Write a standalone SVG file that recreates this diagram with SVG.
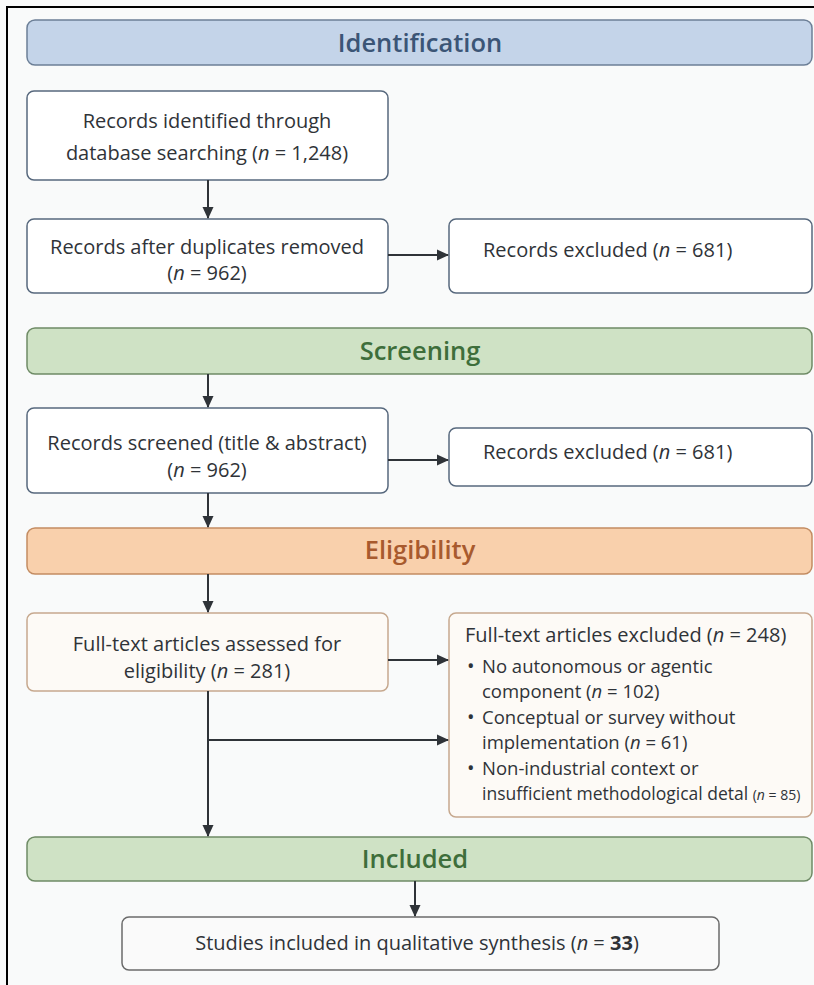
<svg xmlns="http://www.w3.org/2000/svg" width="814" height="985" viewBox="0 0 814 985">
<defs>
<marker id="ah" viewBox="0 0 12 12" refX="11" refY="6" markerWidth="12" markerHeight="12" markerUnits="userSpaceOnUse" orient="auto">
<path d="M0,0.5 L12,6 L0,11.5 z" fill="#2f3338"/>
</marker>
<style>
text{font-family:"Open Sans","Noto Sans","Liberation Sans",sans-serif;fill:#2f3338;font-size:20px}
.bar{stroke-width:1.5}
.hb{font-size:25.5px;font-weight:600;text-anchor:middle}
.box{fill:#ffffff;stroke:#57687d;stroke-width:1.5}
.ebox{fill:#fdfaf6;stroke:#c6a88e;stroke-width:1.5}
.c{text-anchor:middle}
.conn path{fill:none;stroke:#2f3338;stroke-width:2}
.ex{font-size:18.5px}
.bul{font-size:20px}
</style>
</defs>
<rect x="0" y="0" width="814" height="985" fill="#f9fafa"/>
<path d="M7,985 V7 H814" fill="none" stroke="#000" stroke-width="2"/>

<g id="identification">
<rect class="bar" x="27" y="20" width="785" height="45" rx="8" fill="#c4d4e9" stroke="#6c7f97"/>
<text class="hb" x="420" y="52" style="fill:#3b5576">Identification</text>
</g>
<g id="records-identified">
<rect class="box" x="27" y="91" width="361" height="89" rx="7"/>
<text class="c" x="207" y="128">Records identified through</text>
<text class="c" x="207" y="160">database searching (<tspan font-style="italic">n</tspan> = 1,248)</text>
</g>
<g id="records-dedup">
<rect class="box" x="27" y="219" width="361" height="74" rx="7"/>
<text class="c" x="207" y="254">Records after duplicates removed</text>
<text class="c" x="207" y="280">(<tspan font-style="italic">n</tspan> = 962)</text>
</g>
<g id="excluded-1">
<rect class="box" x="449" y="219" width="363" height="74" rx="7"/>
<text x="483" y="257">Records excluded (<tspan font-style="italic">n</tspan> = 681)</text>
</g>
<g id="screening">
<rect class="bar" x="27" y="328" width="785" height="46" rx="8" fill="#cfe2c5" stroke="#6f8b66"/>
<text class="hb" x="420" y="360" style="fill:#3e6e3b">Screening</text>
</g>
<g id="records-screened">
<rect class="box" x="27" y="408" width="361" height="85" rx="7"/>
<text class="c" x="207" y="450">Records screened (title &amp; abstract)</text>
<text class="c" x="207" y="477">(<tspan font-style="italic">n</tspan> = 962)</text>
</g>
<g id="excluded-2">
<rect class="box" x="449" y="428" width="363" height="58" rx="7"/>
<text x="483" y="459">Records excluded (<tspan font-style="italic">n</tspan> = 681)</text>
</g>
<g id="eligibility">
<rect class="bar" x="27" y="528" width="785" height="46" rx="8" fill="#f9d0ac" stroke="#c38c62"/>
<text class="hb" x="420" y="559" style="fill:#a85a2e">Eligibility</text>
</g>
<g id="fulltext-assessed">
<rect class="ebox" x="27" y="613" width="361" height="78" rx="7"/>
<text class="c" x="207" y="651">Full-text articles assessed for</text>
<text class="c" x="207" y="678">eligibility (<tspan font-style="italic">n</tspan> = 281)</text>
</g>
<g id="fulltext-excluded">
<rect class="ebox" x="449" y="613" width="363" height="204" rx="7"/>
<text x="465" y="642" style="font-size:20px">Full-text articles excluded (<tspan font-style="italic">n</tspan> = 248)</text>
<text class="bul" x="467" y="673">•</text>
<text class="ex" x="482" y="673">No autonomous or agentic</text>
<text class="ex" x="482" y="698">component (<tspan font-style="italic">n</tspan> = 102)</text>
<text class="bul" x="467" y="724">•</text>
<text class="ex" x="482" y="724">Conceptual or survey without</text>
<text class="ex" x="482" y="749">implementation (<tspan font-style="italic">n</tspan> = 61)</text>
<text class="bul" x="467" y="775">•</text>
<text class="ex" x="482" y="775">Non-industrial context or</text>
<text x="482" y="800" style="font-size:17.5px">insufficient methodological detal <tspan style="font-size:14px">(<tspan font-style="italic">n</tspan> = 85)</tspan></text>
</g>
<g id="included">
<rect class="bar" x="27" y="837" width="785" height="44" rx="8" fill="#cfe2c5" stroke="#6f8b66"/>
<text class="hb" x="415" y="868" style="fill:#3e6e3b">Included</text>
</g>
<g id="studies-included">
<rect class="ebox" x="122" y="917" width="597" height="53" rx="7" style="fill:#fafafa;stroke:#6b6b6b"/>
<text class="c" x="417" y="950">Studies included in qualitative synthesis (<tspan font-style="italic">n</tspan> = <tspan font-weight="700">33</tspan>)</text>
</g>

<g class="conn" id="connectors">
<path d="M208,180 V218" marker-end="url(#ah)"/>
<path d="M388,255 H448" marker-end="url(#ah)"/>
<path d="M208,374 V407" marker-end="url(#ah)"/>
<path d="M388,460 H448" marker-end="url(#ah)"/>
<path d="M208,493 V527" marker-end="url(#ah)"/>
<path d="M208,574 V612" marker-end="url(#ah)"/>
<path d="M388,660 H448" marker-end="url(#ah)"/>
<path d="M208,691 V836" marker-end="url(#ah)"/>
<path d="M208,740 H448" marker-end="url(#ah)"/>
<path d="M415,881 V916" marker-end="url(#ah)"/>
</g>
</svg>
